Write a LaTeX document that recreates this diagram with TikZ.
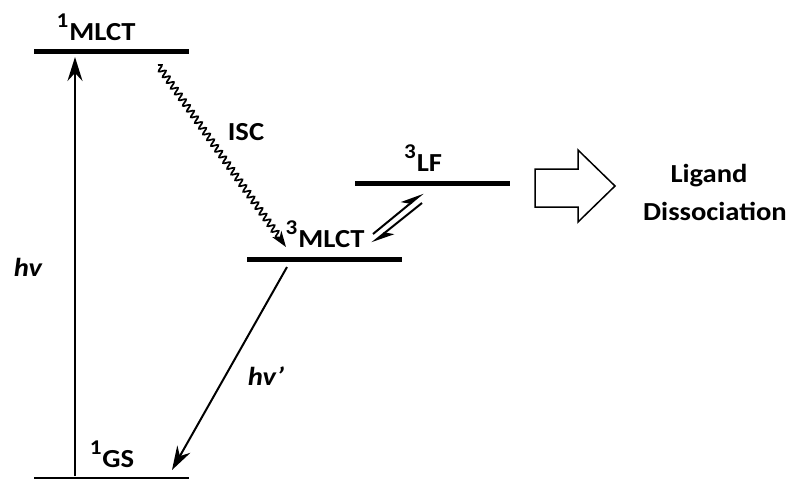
\documentclass[tikz,border=0pt]{standalone}
\usepackage{fontspec}
\setmainfont{Carlito}[FakeStretch=1.1]
\usetikzlibrary{arrows.meta,decorations.pathmorphing}
\newcommand{\mysup}[1]{\raisebox{0.5em}{\fontsize{21}{21}\selectfont #1}\kern1pt}
\begin{document}
\begin{tikzpicture}[x=1pt,y=-1pt,
  bar/.style={fill=black,inner sep=0pt,minimum width=155pt,minimum height=5.5pt},
  thinbar/.style={fill=black,inner sep=0pt,minimum width=155pt,minimum height=2pt},
  lbl/.style={font=\fontsize{26}{30}\selectfont\bfseries,inner sep=0pt,anchor=base},
  bigarrow/.style={line width=2pt,-{Stealth[length=24pt,width=15pt,inset=8pt]}},
  harp/.style={line width=2pt,-{Stealth[harpoon,length=20pt,width=14pt,inset=6pt]}}]
\useasboundingbox (0,0) rectangle (789,480);
% levels
\node[bar] (mlct1) at (111.5,51.5) {};
\node[thinbar] (gs) at (111.5,478) {};
\node[bar] (mlct3) at (324.5,259.5) {};
\node[bar] (lf3) at (432.5,183.5) {};
% labels
\node[lbl] (tmlct1) at (96,40) {\mysup{1}MLCT};
\node[lbl] (tgs) at (112,467) {\mysup{1}GS};
\node[lbl] (tmlct3) at (325,247) {\mysup{3}MLCT};
\node[lbl] (tlf3) at (423,171) {\mysup{3}LF};
\node[lbl] (tisc) at (246,140) {ISC};
\node[lbl] (thv) at (28,276) {\itshape hv};
\node[lbl] (thv2) at (266,385) {\itshape hv'};
\node[lbl] (tlig) at (709,182) {Ligand};
\node[lbl] (tdis) at (715,220) {Dissociation};
% connector end points
\coordinate (a1) at (75,476);
\coordinate (a2) at (75,57);
\coordinate (w1) at (158,65);
\coordinate (w2) at (286,247);
\coordinate (e1) at (287,267);
\coordinate (e2) at (172,470);
\coordinate (h1) at (373,234);
\coordinate (h2) at (423,193);
\coordinate (h3) at (422,203);
\coordinate (h4) at (372,243);
% arrows
\draw[bigarrow] (a1) -- (a2);
\draw[bigarrow] (e1) -- (e2);
\draw[line width=1.7pt,-{Stealth[length=16pt,width=11pt,inset=5pt]},
  decorate,decoration={snake,amplitude=3.2pt,segment length=7pt,post length=10pt}] (w1) -- (w2);
\draw[harp] (h1) -- (h2);
\draw[harp] (h3) -- (h4);
% block arrow
\draw[line width=1.5pt,line join=miter] (535,169) -- (578,169) -- (578,150) -- (615,186)
  -- (578,222) -- (578,207) -- (535,207) -- cycle;
\end{tikzpicture}
\end{document}
